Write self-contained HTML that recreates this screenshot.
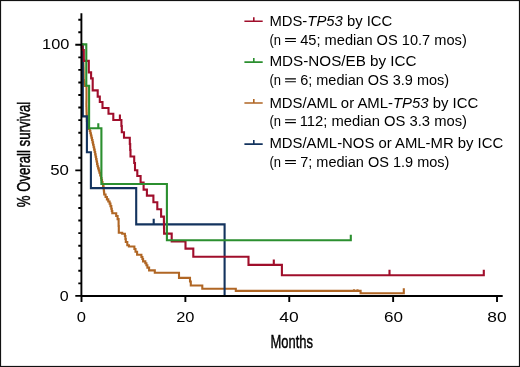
<!DOCTYPE html>
<html><head><meta charset="utf-8"><style>
html,body{margin:0;padding:0;background:#fff;}
body{width:520px;height:367px;overflow:hidden;font-family:"Liberation Sans",sans-serif;}
svg{display:block;will-change:transform;}
</style></head><body>
<svg width="520" height="367" viewBox="0 0 520 367"><rect x="0" y="0" width="520" height="367" fill="#fff"/><rect x="0.5" y="0.5" width="519" height="366" fill="none" stroke="#111" stroke-width="1.2"/><path d="M81.5 44.8 H81.70 V46.84 H81.90 V48.88 H82.10 V50.92 H82.30 V52.96 H82.50 V55.00 H82.77 V57.33 H83.03 V59.67 H83.30 V62.00 H83.38 V64.00 H83.45 V66.00 H83.52 V68.00 H83.60 V70.00 H83.62 V72.50 H83.65 V75.00 H83.67 V77.50 H83.70 V80.00 H84.00 V82.00 H84.30 V84.00 H84.60 V86.00 H86.50 V89.00 H86.50 V91.20 H86.50 V93.40 H86.50 V95.60 H86.50 V97.80 H86.50 V100.00 H86.47 V102.00 H86.43 V104.00 H86.40 V106.00 H86.47 V108.33 H86.53 V110.67 H86.60 V113.00 H86.67 V115.00 H86.75 V117.00 H86.83 V119.00 H86.90 V121.00 H87.13 V123.00 H87.37 V125.00 H87.60 V127.00 H88.70 V129.00 H89.80 V131.00 H90.35 V133.25 H90.90 V135.50 H91.45 V137.75 H92.00 V140.00 H92.54 V142.40 H93.08 V144.80 H93.62 V147.20 H94.16 V149.60 H94.70 V152.00 H95.17 V154.37 H95.63 V156.73 H96.10 V159.10 H96.57 V161.47 H97.03 V163.83 H97.50 V166.20 H98.13 V168.37 H98.77 V170.53 H99.40 V172.70 H100.20 V175.35 H101.00 V178.00 H101.50 V180.00 H102.00 V182.00 H102.50 V184.00 H103.05 V186.25 H103.60 V188.50 H103.80 V190.50 H104.00 V192.50 H104.20 V194.50 H105.55 V196.95 H106.90 V199.40 H108.25 V201.50 H109.60 V203.60 H110.45 V206.15 H111.30 V208.70 H111.80 V211.00 H112.30 V213.30 H116.2 V216 H117.6 V219.1 H118.6 V226 H118.8 V232.7 H122.2 V233.8 H124.9 V236 H125.4 V239 H125.8 V242 H127.3 V245.2 H128.9 V246.5 H134.4 V249 H135.5 V251.8 H137.1 V254.7 H141.4 V257 H142.4 V259 H143.1 V261.4 H145.3 V263.3 H146.4 V265.3 H147.4 V267.6 H149.1 V270.4 H154.8 V272.8 H179 V277.9 H190 V281.5 H190.8 V285.5 H202.3 V288.7 H235.8 V290.9 H360.6 V293.2 H403.8 V288.3 M354.0 290.9 V289.2 M357.5 290.9 V289.2 " fill="none" stroke="#b06624" stroke-width="2.1" stroke-linejoin="miter" stroke-linecap="butt"/><path d="M81.5 44.8 H82.8 V116.4 H86.9 V152.2 H90.9 V188.1 H136.2 V224.4 H224.6 V296 M153.7 224.4 V218.8 " fill="none" stroke="#13335e" stroke-width="2.1" stroke-linejoin="miter" stroke-linecap="butt"/><path d="M81.5 44.8 H82.4 V50 H83.8 V60.9 H88.8 V72.4 H91.1 V78.4 H92.7 V90.4 H97.7 V96.6 H99.8 V102 H102.5 V108 H108.5 V113.8 H113.3 V120 H121.4 V126 H121.8 V132.2 H124 V137.8 H129.8 V144 H130.2 V150 H130.5 V156.5 H134.2 V163 H135 V170.2 H137.3 V176 H140.6 V182.5 H143.6 V189.6 H146.9 V195.6 H153.4 V202.2 H157.3 V209.3 H161.1 V216.6 H163.9 V222 H164 V228 H164.1 V233.6 H171.7 V241.5 H185.5 V248.6 H193.3 V256.8 H248.5 V264.9 H281.9 V275.2 H483.8 V269.8 M119.9 120 V114.4 M273.8 264.9 V259.4 M389.5 275.2 V269.8 " fill="none" stroke="#a00e2b" stroke-width="2.1" stroke-linejoin="miter" stroke-linecap="butt"/><path d="M81.5 44.4 H86.3 V85.8 H89.1 V128.3 H101.4 V184.0 H166.9 V240.2 H350.8 V234.7 M98.3 128.3 V123.2 " fill="none" stroke="#2b8f2f" stroke-width="2.1" stroke-linejoin="miter" stroke-linecap="butt"/><path d="M81.4 13.3 V297 M80.6 296 H502.7 M75.3 295.90 H81.5 M78.3 283.34 H81.5 M78.3 270.79 H81.5 M78.3 258.23 H81.5 M78.3 245.68 H81.5 M78.3 233.12 H81.5 M78.3 220.57 H81.5 M78.3 208.01 H81.5 M78.3 195.46 H81.5 M78.3 182.90 H81.5 M75.3 170.35 H81.5 M78.3 157.79 H81.5 M78.3 145.24 H81.5 M78.3 132.68 H81.5 M78.3 120.13 H81.5 M78.3 107.57 H81.5 M78.3 95.02 H81.5 M78.3 82.46 H81.5 M78.3 69.91 H81.5 M78.3 57.35 H81.5 M75.3 44.80 H81.5 M78.3 32.24 H81.5 M78.3 19.69 H81.5 M81.50 296 V301.9 M185.38 296 V301.9 M289.26 296 V301.9 M393.14 296 V301.9 M497.02 296 V301.9" fill="none" stroke="#000" stroke-width="1.9"/><text x="55.68" y="49.30" font-family="Liberation Sans, sans-serif" font-size="15.2" text-anchor="middle" textLength="27.25" lengthAdjust="spacingAndGlyphs" fill="#000">100</text><text x="59.60" y="175.10" font-family="Liberation Sans, sans-serif" font-size="15.2" text-anchor="middle" textLength="18.70" lengthAdjust="spacingAndGlyphs" fill="#000">50</text><text x="64.20" y="301.00" font-family="Liberation Sans, sans-serif" font-size="15.2" text-anchor="middle" textLength="8.90" lengthAdjust="spacingAndGlyphs" fill="#000">0</text><text x="81.25" y="321.6" font-family="Liberation Sans, sans-serif" font-size="15.2" text-anchor="middle" textLength="9.20" lengthAdjust="spacingAndGlyphs" fill="#000">0</text><text x="185.30" y="321.6" font-family="Liberation Sans, sans-serif" font-size="15.2" text-anchor="middle" textLength="18.30" lengthAdjust="spacingAndGlyphs" fill="#000">20</text><text x="289.05" y="321.6" font-family="Liberation Sans, sans-serif" font-size="15.2" text-anchor="middle" textLength="19.40" lengthAdjust="spacingAndGlyphs" fill="#000">40</text><text x="393.45" y="321.6" font-family="Liberation Sans, sans-serif" font-size="15.2" text-anchor="middle" textLength="19.00" lengthAdjust="spacingAndGlyphs" fill="#000">60</text><text x="496.90" y="321.6" font-family="Liberation Sans, sans-serif" font-size="15.2" text-anchor="middle" textLength="19.30" lengthAdjust="spacingAndGlyphs" fill="#000">80</text><text x="291.8" y="348.3" font-family="Liberation Sans, sans-serif" font-size="19" text-anchor="middle" textLength="42.5" lengthAdjust="spacingAndGlyphs" fill="#000" stroke="#000" stroke-width="0.45">Months</text><text transform="translate(30.2 154.5) rotate(-90)" x="0" y="0" font-family="Liberation Sans, sans-serif" font-size="19" text-anchor="middle" textLength="105.5" lengthAdjust="spacingAndGlyphs" fill="#000" stroke="#000" stroke-width="0.45">% Overall survival</text><path d="M244.4 21.3 H262.7 M253.8 21.3 V17.3" stroke="#a00e2b" stroke-width="1.6" fill="none"/><text x="269.4" y="26.0" font-family="Liberation Sans, sans-serif" font-size="14" textLength="122.9" lengthAdjust="spacingAndGlyphs" fill="#000">MDS-<tspan font-style="italic">TP53</tspan> by ICC</text><text x="269.5" y="44.6" font-family="Liberation Sans, sans-serif" font-size="14" textLength="11.6" lengthAdjust="spacingAndGlyphs" fill="#000">(n</text><path d="M285.1 38.60 H295.9 M285.1 41.50 H295.9" stroke="#000" stroke-width="1.15" fill="none"/><text x="300.2" y="44.6" font-family="Liberation Sans, sans-serif" font-size="14" textLength="166.6" lengthAdjust="spacingAndGlyphs" fill="#000">45; median OS 10.7 mos)</text><path d="M244.4 62.1 H262.7 M253.8 62.1 V58.1" stroke="#2b8f2f" stroke-width="1.6" fill="none"/><text x="269.4" y="66.4" font-family="Liberation Sans, sans-serif" font-size="14" textLength="147.2" lengthAdjust="spacingAndGlyphs" fill="#000">MDS-NOS/EB by ICC</text><text x="269.5" y="84.8" font-family="Liberation Sans, sans-serif" font-size="14" textLength="11.6" lengthAdjust="spacingAndGlyphs" fill="#000">(n</text><path d="M285.1 78.80 H295.9 M285.1 81.70 H295.9" stroke="#000" stroke-width="1.15" fill="none"/><text x="300.2" y="84.8" font-family="Liberation Sans, sans-serif" font-size="14" textLength="148.9" lengthAdjust="spacingAndGlyphs" fill="#000">6; median OS 3.9 mos)</text><path d="M244.4 103.0 H262.7 M253.8 103.0 V99.0" stroke="#b06624" stroke-width="1.6" fill="none"/><text x="269.4" y="107.5" font-family="Liberation Sans, sans-serif" font-size="14" textLength="208.9" lengthAdjust="spacingAndGlyphs" fill="#000">MDS/AML or AML-<tspan font-style="italic">TP53</tspan> by ICC</text><text x="269.5" y="125.7" font-family="Liberation Sans, sans-serif" font-size="14" textLength="11.6" lengthAdjust="spacingAndGlyphs" fill="#000">(n</text><path d="M285.1 119.70 H295.9 M285.1 122.60 H295.9" stroke="#000" stroke-width="1.15" fill="none"/><text x="299.7" y="125.7" font-family="Liberation Sans, sans-serif" font-size="14" textLength="167.3" lengthAdjust="spacingAndGlyphs" fill="#000">112; median OS 3.3 mos)</text><path d="M244.4 144.1 H262.7 M253.8 144.1 V140.1" stroke="#13335e" stroke-width="1.6" fill="none"/><text x="269.4" y="148.4" font-family="Liberation Sans, sans-serif" font-size="14" textLength="233.8" lengthAdjust="spacingAndGlyphs" fill="#000">MDS/AML-NOS or AML-MR by ICC</text><text x="269.5" y="166.6" font-family="Liberation Sans, sans-serif" font-size="14" textLength="11.6" lengthAdjust="spacingAndGlyphs" fill="#000">(n</text><path d="M285.1 160.60 H295.9 M285.1 163.50 H295.9" stroke="#000" stroke-width="1.15" fill="none"/><text x="300.2" y="166.6" font-family="Liberation Sans, sans-serif" font-size="14" textLength="149.2" lengthAdjust="spacingAndGlyphs" fill="#000">7; median OS 1.9 mos)</text></svg>
</body></html>
